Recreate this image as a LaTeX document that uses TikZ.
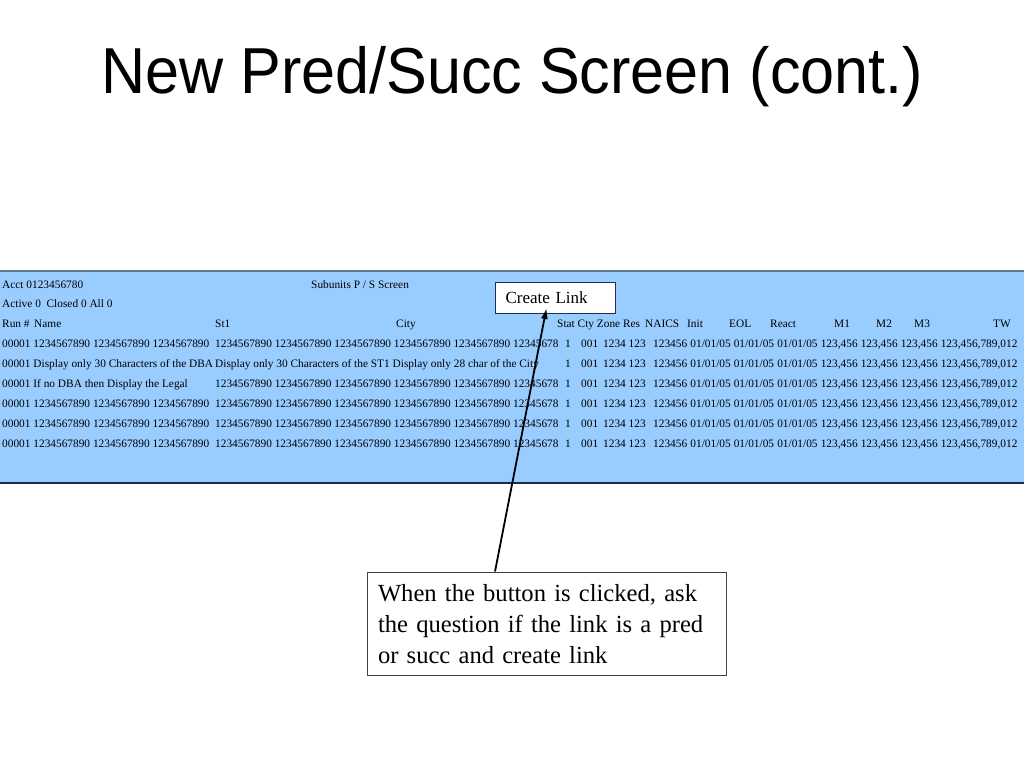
\documentclass[tikz,border=0pt]{standalone}
\usepackage{fontspec}
\setmainfont{Liberation Serif}
\newfontfamily\titlefont{Liberation Sans}
\usetikzlibrary{arrows.meta}
\definecolor{panelblue}{HTML}{99CCFF}
\definecolor{topedge}{HTML}{66778A}
\definecolor{botedge}{HTML}{1C2C48}
\definecolor{navyedge}{HTML}{1F2F50}
\definecolor{greyedge}{HTML}{404040}
\tikzset{
  cell/.style={anchor=base west, inner sep=0pt, font=\fontsize{11.35}{13.6}\selectfont},
  btn/.style={draw=navyedge, line width=1pt, fill=white, anchor=north west, inner ysep=0pt,
    inner xsep=10.5pt, text width=99pt, minimum height=31.5pt, align=left,
    font=\fontsize{17}{20}\selectfont},
  callout/.style={draw=greyedge, line width=1pt, fill=white, anchor=north west, inner ysep=0pt,
    inner xsep=10.5pt, text width=337.5pt, minimum height=103.5pt, align=left,
    font=\fontsize{24.6}{31}\selectfont},
  pointer/.style={line width=1.8pt, -{Latex[length=11pt,width=7pt]}}
}
\begin{document}
\begin{tikzpicture}[x=1pt,y=-1pt]
\useasboundingbox (0,0) rectangle (1024,768);
\fill[white] (0,0) rectangle (1024,768);
% title
\node[anchor=base west, inner sep=0pt] (title) at (101,93)
  {\titlefont\fontsize{65}{70}\selectfont\scalebox{0.94}[1]{New Pred/Succ Screen (cont.)}};
% panel
\fill[panelblue] (-2,271) rectangle (1026,483);
\draw[topedge, line width=1.5pt] (-2,271) -- (1026,271);
\draw[botedge, line width=1.5pt] (-2,483) -- (1026,483);
% header lines
\node[cell] (acct) at (2,288) {Acct 0123456780};
\node[cell] (sub) at (311,288) {Subunits P / S Screen};
\node[cell] (act) at (2,307.9) {Active 0\ \ Closed 0 All 0};
\node[cell] (hrun) at (2,327.8) {Run \#};
\node[cell] (hname) at (34,327.8) {Name};
\node[cell] (hst) at (215,327.8) {St1};
\node[cell] (hcity) at (396,327.8) {City};
\node[cell] (hstat) at (557,327.8) {Stat Cty Zone Res};
\node[cell] (hnaics) at (645,327.8) {NAICS};
\node[cell] (hinit) at (687,327.8) {Init};
\node[cell] (heol) at (729,327.8) {EOL};
\node[cell] (hreact) at (770,327.8) {React};
\node[cell] (hm1) at (834,327.8) {M1};
\node[cell] (hm2) at (876,327.8) {M2};
\node[cell] (hm3) at (914,327.8) {M3};
\node[cell] (htw) at (993,327.8) {TW};
% data rows
\foreach \i/\a/\b in {
  3/{00001 1234567890 1234567890 1234567890}/{1234567890 1234567890 1234567890 1234567890 1234567890 12345678},
  4/{00001 Display only 30 Characters of the DBA}/{Display only 30 Characters of the ST1 Display only 28 char of the City},
  5/{00001 If no DBA then Display the Legal}/{1234567890 1234567890 1234567890 1234567890 1234567890 12345678},
  6/{00001 1234567890 1234567890 1234567890}/{1234567890 1234567890 1234567890 1234567890 1234567890 12345678},
  7/{00001 1234567890 1234567890 1234567890}/{1234567890 1234567890 1234567890 1234567890 1234567890 12345678},
  8/{00001 1234567890 1234567890 1234567890}/{1234567890 1234567890 1234567890 1234567890 1234567890 12345678}}{
  \pgfmathsetmacro{\yy}{288+19.9*\i}
  \node[cell] (a\i) at (2,\yy) {\a};
  \node[cell] (b\i) at (215,\yy) {\b};
  \node[cell] (stat\i) at (565,\yy) {1};
  \node[cell] (cty\i) at (581,\yy) {001};
  \node[cell] (zone\i) at (603,\yy) {1234 123};
  \node[cell] (naics\i) at (653,\yy) {123456};
  \node[cell] (init\i) at (690.2,\yy) {01/01/05};
  \node[cell] (eol\i) at (733.6,\yy) {01/01/05};
  \node[cell] (react\i) at (777.1,\yy) {01/01/05};
  \node[cell] (mone\i) at (820.6,\yy) {123,456};
  \node[cell] (mtwo\i) at (860.6,\yy) {123,456};
  \node[cell] (mthree\i) at (900.6,\yy) {123,456};
  \node[cell] (tw\i) at (940.6,\yy) {123,456,789,012};
}
% button
\node[btn] (cl) at (494.5,281.5) {Create Link};
% callout
\node[callout] (cb) at (367,571.5) {When the button is clicked, ask\\the question if the link is a pred\\or succ and create link};
% pointer
\coordinate (tail) at (495,571.5);
\coordinate (tip) at (546.5,308);
\draw[pointer] (tail) -- (tip);
\end{tikzpicture}
\end{document}
